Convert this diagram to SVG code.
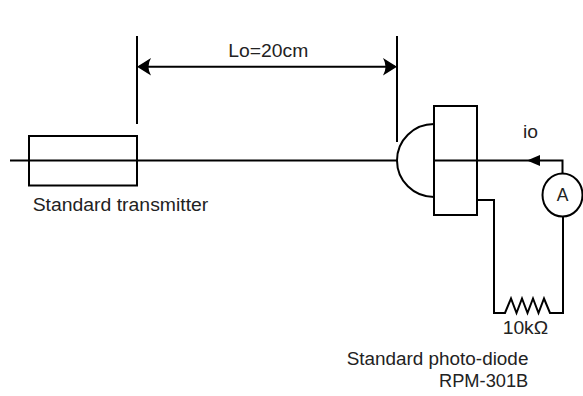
<svg xmlns="http://www.w3.org/2000/svg" width="583" height="396" viewBox="0 0 583 396">
<style>
.ln{fill:none;stroke:#000;stroke-width:2}
.bx{fill:#fff;stroke:#000;stroke-width:2}
.ah{fill:#000;stroke:none}
text{font-family:"Liberation Sans",Arial,sans-serif;font-size:17.5px;fill:#222}
</style>
<rect width="583" height="396" fill="#fff"/>
<g id="connectors">
<path class="ln" d="M10,160.5 H397"/>
<path class="ln" d="M434,160.5 H562.5 V173.5"/>
<path class="ah" d="M527,160.5 L540,155 V166 Z"/>
<path class="ln" d="M137,36 V124"/>
<path class="ln" d="M397,36 V142"/>
<path class="ln" d="M139,66.7 H395"/>
<path class="ah" d="M137,66.7 L151,58 Q146,66.7 151,75.4 Z"/>
<path class="ah" d="M397,66.7 L383,58 Q388,66.7 383,75.4 Z"/>
<path class="ln" d="M477,200 H494 V313 H505 L511,298.5 L516.5,313 L522,298.5 L527.5,313 L533,298.5 L538.5,313 L544,298.5 L550,313 H563 V216.5"/>
</g>
<g id="transmitter">
<rect class="ln" x="29" y="136" width="108" height="49.5"/>
<text x="32.7" y="210.7" textLength="175.6" lengthAdjust="spacingAndGlyphs">Standard transmitter</text>
</g>
<g id="photodiode">
<path class="ln" d="M434,124 A37,36.5 0 0 0 434,197"/>
<rect class="ln" x="434" y="106" width="43" height="109"/>
<text x="346.7" y="365" textLength="181.7" lengthAdjust="spacingAndGlyphs">Standard photo-diode</text>
<text x="439" y="386.7" textLength="89.3" lengthAdjust="spacingAndGlyphs">RPM-301B</text>
</g>
<g id="ammeter">
<ellipse class="bx" cx="562.5" cy="195" rx="20" ry="21.5"/>
<text x="562.5" y="200.7" text-anchor="middle">A</text>
</g>
<g id="labels">
<text x="228.3" y="56.7" textLength="80" lengthAdjust="spacingAndGlyphs">Lo=20cm</text>
<text x="523" y="138" textLength="15" lengthAdjust="spacingAndGlyphs">io</text>
<text x="502.7" y="334.3" textLength="45.5" lengthAdjust="spacingAndGlyphs">10kΩ</text>
</g>
</svg>
